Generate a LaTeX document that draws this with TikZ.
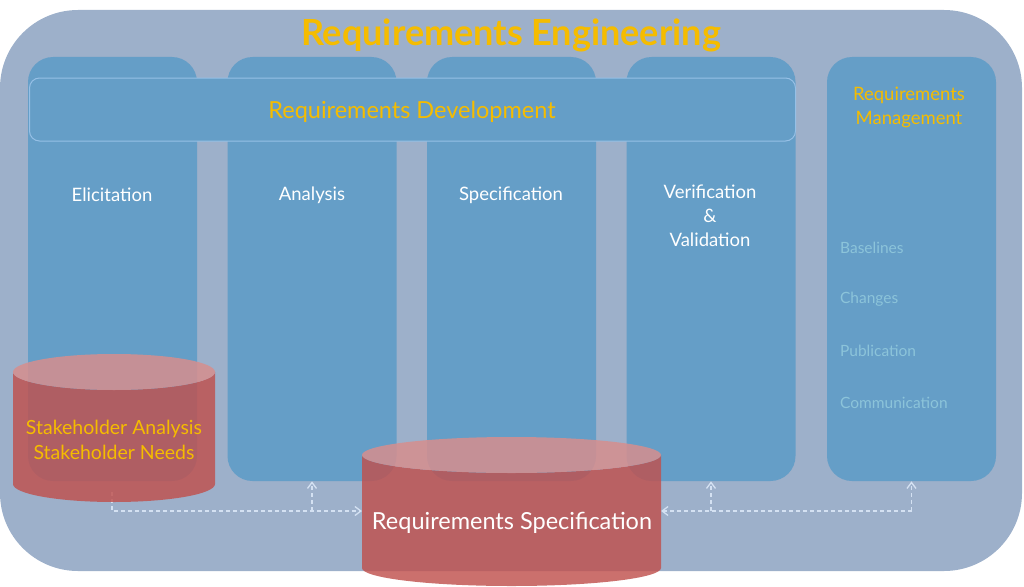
\documentclass[tikz,border=0pt]{standalone}
\usepackage{fontspec}
\setmainfont{Lato}
\usetikzlibrary{arrows.meta}

\definecolor{reOuter}{RGB}{157,176,202}
\definecolor{reCol}{RGB}{101,158,199}
\definecolor{reEdge}{RGB}{150,192,230}
\definecolor{reGold}{RGB}{245,188,0}
\definecolor{reSoft}{RGB}{140,196,218}
\definecolor{reLink}{RGB}{212,225,242}
\definecolor{reRed}{RGB}{192,80,77}
\definecolor{reRose}{RGB}{214,142,142}

\tikzset{every picture/.style={line width=0.75pt}}

\begin{document}
\begin{tikzpicture}[x=1pt,y=1pt,yscale=-1,xscale=1,
  col/.style={fill=reCol,draw=none,rounded corners=25pt,minimum width=169pt,minimum height=424pt,inner sep=0pt},
  lbl/.style={text=white,font=\fontsize{18.5}{24}\selectfont,align=center,inner sep=0.75pt},
  gold/.style={text=reGold,align=center,inner sep=0.75pt},
  soft/.style={text=reSoft,font=\fontsize{15.5}{16}\selectfont,anchor=west,inner sep=0.75pt},
  link/.style={draw=reLink,line width=1.3pt,dash pattern={on 4pt off 3pt},-{Straight Barb[length=6pt,width=9pt]}},
  cylbody/.style={fill=reRed,fill opacity=0.82},
  cyltop/.style={fill=reRose,fill opacity=0.85}]
\useasboundingbox (0,0) rectangle (1024,586);

%Outer frame
\fill[reOuter,rounded corners=78pt] (0,10) rectangle (1022,571);

% Text Node
\node[gold,font=\bfseries\fontsize{36}{40}\selectfont] (title) at (511,35) {Requirements Engineering};

%Columns
\node[col] (elic) at (112.5,269) {};
\node[col] (anal) at (312,269) {};
\node[col] (spec) at (511.5,269) {};
\node[col] (verif) at (711,269) {};
\node[col] (mgmt) at (911.5,269) {};

%Requirements Development band
\node[fill=reCol,draw=reEdge,line width=1pt,rounded corners=10pt,minimum width=766pt,minimum height=63pt,inner sep=0pt] (dev) at (412.5,109.5) {};
% Text Node
\node[gold,font=\fontsize{23.5}{28}\selectfont] (devtxt) at (412,111.5) {Requirements Development};

% Text Node
\node[lbl] (elictxt) at (112,195) {Elicitation};
% Text Node
\node[lbl] (analtxt) at (312,195) {Analysis};
% Text Node
\node[lbl] (spectxt) at (511,195) {Specification};
% Text Node
\node[lbl,anchor=north] (veriftxt) at (710,184) {Verification\\\&\\Validation};
% Text Node
\node[gold,font=\fontsize{18.5}{24}\selectfont,anchor=north] (mgmttxt) at (909,86) {Requirements\\Management};

% Text Node
\node[soft] (base) at (839,247.5) {Baselines};
% Text Node
\node[soft] (chg) at (839,299.5) {Changes};
% Text Node
\node[soft] (pub) at (839,350.5) {Publication};
% Text Node
\node[soft] (comm) at (839,402.5) {Communication};

%Link points
\coordinate (sabot) at (112,492);
\coordinate (rsw) at (362,511);
\coordinate (rse) at (661,511);
\coordinate (jl) at (anal.south |- rsw);
\coordinate (jv) at (verif.south |- rse);
\coordinate (jm) at (mgmt.south |- rse);

%Dashed links
\draw[link] (sabot) |- (rsw);
\draw[link] (jl) -- (anal.south);
\draw[link] (jm) -- (rse);
\draw[link] (jv) -- (verif.south);
\draw[link] (jm) -- (mgmt.south);

%Stakeholder store
\fill[cylbody] (13,372) -- (13,484) arc[start angle=180,end angle=0,x radius=101,y radius=18] -- (215,372) arc[start angle=0,end angle=180,x radius=101,y radius=18] -- cycle;
\fill[cyltop] (114,372) ellipse[x radius=101,y radius=18];
% Text Node
\node[gold,font=\fontsize{19.5}{25}\selectfont] (stake) at (114,440) {Stakeholder Analysis\\Stakeholder Needs};

%Specification store
\fill[cylbody] (362,455) -- (362,568) arc[start angle=180,end angle=0,x radius=149.5,y radius=18] -- (661,455) arc[start angle=0,end angle=180,x radius=149.5,y radius=18] -- cycle;
\fill[cyltop] (511.5,455) ellipse[x radius=149.5,y radius=18];
% Text Node
\node[text=white,font=\fontsize{23.5}{28}\selectfont,inner sep=0.75pt] (reqspec) at (512,523) {Requirements Specification};

\end{tikzpicture}
\end{document}
